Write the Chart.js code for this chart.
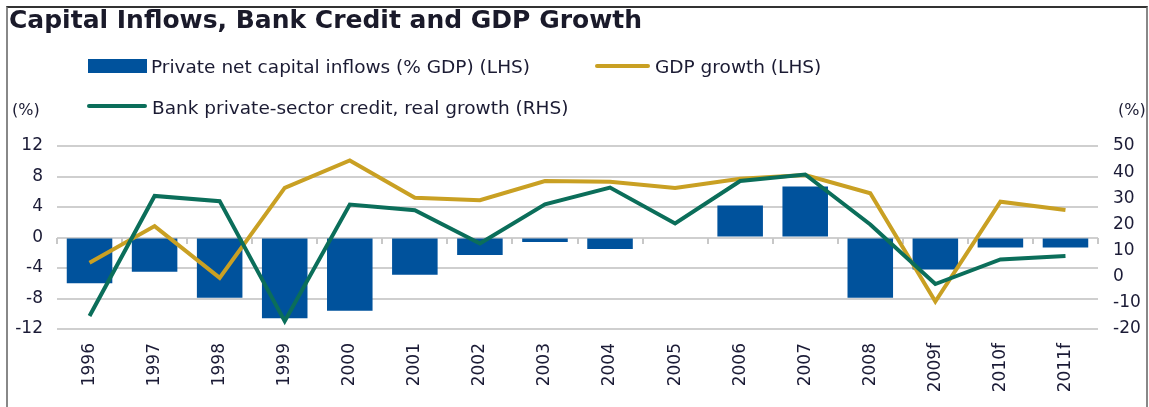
<!DOCTYPE html>
<html>
<head>
<meta charset="utf-8">
<script src="https://cdn.jsdelivr.net/npm/chart.js@4.4.0/dist/chart.umd.min.js"></script>
<style>
  html, body { margin: 0; padding: 0; background: #fff; }
  #wrap { position: relative; width: 1149px; height: 407px; overflow: hidden; font-family: "DejaVu Sans", sans-serif; color: #1b1b33; }
  #frame { position: absolute; left: 6px; top: 6px; width: 1138px; height: 420px; border-top: 2px solid #333; border-left: 2px solid #888; border-right: 2px solid #888; }
  canvas { position: absolute; left: 0; top: 0; }
  .txt { position: absolute; white-space: nowrap; font-size: 18.5px; line-height: 20px; }
  .title { position: absolute; left: 9px; top: 5px; font-size: 25px; font-weight: bold; white-space: nowrap; color: #1a1a2a; }
  .swatch { position: absolute; }
</style>
</head>
<body>
<div id="wrap">
  <canvas id="chart" width="1149" height="407"></canvas>
  <div id="frame"></div>
  <div class="title">Capital Inflows, Bank Credit and GDP Growth</div>

  <div class="swatch" style="left:88px;top:59px;width:59px;height:14px;background:#00529c;"></div>
  <div class="txt" style="left:151px;top:57px;">Private net capital inflows (% GDP) (LHS)</div>
  <div class="swatch" style="left:595px;top:64px;width:55px;height:4px;border-radius:2px;background:#c9a023;"></div>
  <div class="txt" style="left:655px;top:57px;">GDP growth (LHS)</div>

  <div class="swatch" style="left:87px;top:104px;width:60px;height:4px;border-radius:2px;background:#0b6e5a;"></div>
  <div class="txt" style="left:152px;top:98px;">Bank private-sector credit, real growth (RHS)</div>

  <div class="txt" style="left:12px;top:100px;font-size:16px;">(%)</div>
  <div class="txt" style="left:1118px;top:100px;font-size:16px;">(%)</div>
</div>

<script>
// Data
const categories = ['1996', '1997', '1998', '1999', '2000', '2001', '2002', '2003', '2004', '2005', '2006', '2007', '2008', '2009f', '2010f', '2011f'];
const capitalInflows = [-6.0, -4.5, -7.9, -10.6, -9.6, -4.9, -2.3, -0.6, -1.5, null, 4.2, 6.7, -7.9, -4.2, -1.3, -1.3];
const gdpGrowth = [-3.3, 1.5, -5.3, 6.5, 10.1, 5.2, 4.9, 7.4, 7.3, 6.5, 7.7, 8.2, 5.8, -8.4, 4.7, 3.6];
const bankCredit = [-15.0, 30.9, 28.9, -17.0, 27.6, 25.4, 12.7, 27.7, 34.1, 20.4, 36.6, 39.1, 20.0, -2.8, 6.6, 7.9];

const leftTicks = { min: -12, max: 12, step: 4 };
const rightTicks = { min: -20, max: 50, step: 10 };

const tickFont = { family: 'DejaVu Sans', size: 17 };
const tickColor = '#1b1b36';

// small tick marks hanging under the zero line, at category boundaries
const zeroTicks = {
  id: 'zeroTicks',
  beforeDatasetsDraw(chart) {
    const x = chart.scales.x;
    const y0 = Math.round(chart.scales.y.getPixelForValue(0));
    const n = categories.length;
    const ctx = chart.ctx;
    ctx.save();
    ctx.strokeStyle = '#c8c8c8';
    ctx.lineWidth = 2;
    ctx.beginPath();
    for (let i = 0; i <= n; i++) {
      const px = Math.round(x.left + i * x.width / n);
      ctx.moveTo(px, y0);
      ctx.lineTo(px, y0 + 6);
    }
    ctx.stroke();
    ctx.restore();
  }
};

const ctx = document.getElementById('chart').getContext('2d');
new Chart(ctx, {
  type: 'bar',
  data: {
    labels: categories,
    datasets: [
      {
        type: 'line',
        label: 'Bank private-sector credit, real growth (RHS)',
        data: bankCredit,
        yAxisID: 'y1',
        borderColor: '#0b6e5a',
        borderWidth: 4,
        pointRadius: 0,
        tension: 0,
        order: 1
      },
      {
        type: 'line',
        label: 'GDP growth (LHS)',
        data: gdpGrowth,
        yAxisID: 'y',
        borderColor: '#c9a023',
        borderWidth: 4,
        pointRadius: 0,
        tension: 0,
        order: 2
      },
      {
        label: 'Private net capital inflows (% GDP) (LHS)',
        data: capitalInflows,
        yAxisID: 'y',
        backgroundColor: '#00529c',
        barPercentage: 0.7,
        categoryPercentage: 1,
        order: 3
      }
    ]
  },
  options: {
    responsive: false,
    animation: false,
    devicePixelRatio: 1,
    layout: { padding: { top: 146, left: 7, right: 0, bottom: 0 } },
    plugins: {
      legend: { display: false },
      tooltip: { enabled: false }
    },
    scales: {
      x: {
        grid: { display: false },
        border: { display: false },
        ticks: {
          font: tickFont,
          color: tickColor,
          minRotation: 90,
          maxRotation: 90,
          padding: 6,
          autoSkip: false
        },
        afterFit: s => { s.height = 78; }
      },
      y: {
        position: 'left',
        min: leftTicks.min,
        max: leftTicks.max,
        ticks: { stepSize: leftTicks.step, font: tickFont, color: tickColor, padding: 14 },
        grid: { color: '#cfcfcf', lineWidth: 2, drawTicks: false },
        border: { display: false },
        afterFit: s => { s.width = 50; }
      },
      y1: {
        position: 'right',
        min: rightTicks.min,
        max: rightTicks.max,
        ticks: { stepSize: rightTicks.step, font: tickFont, color: tickColor, padding: 15 },
        grid: { display: false, drawTicks: false },
        border: { display: false },
        afterFit: s => { s.width = 51; }
      }
    }
  },
  plugins: [zeroTicks]
});
</script>
</body>
</html>
